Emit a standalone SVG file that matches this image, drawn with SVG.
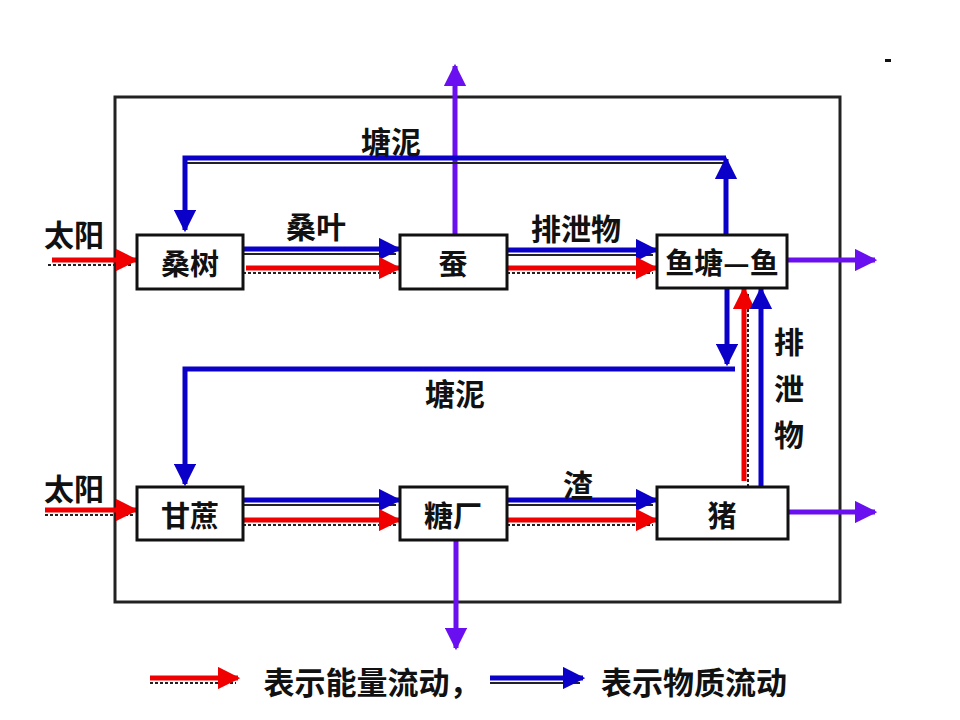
<svg xmlns="http://www.w3.org/2000/svg" width="960" height="720" viewBox="0 0 960 720">
<defs>
<marker id="ab" viewBox="0 0 10 10" refX="9" refY="5" markerWidth="4.5" markerHeight="4.5" markerUnits="strokeWidth" orient="auto"><path d="M0,0 L10,5 L0,10 z" fill="#0a00c8"/></marker>
<marker id="ar" viewBox="0 0 10 10" refX="9" refY="5" markerWidth="4.5" markerHeight="4.5" markerUnits="strokeWidth" orient="auto"><path d="M0,0 L10,5 L0,10 z" fill="#f00000"/></marker>
<marker id="ap" viewBox="0 0 10 10" refX="9" refY="5" markerWidth="4.5" markerHeight="4.5" markerUnits="strokeWidth" orient="auto"><path d="M0,0 L10,5 L0,10 z" fill="#6a10f0"/></marker>
</defs>
<style>
.box{fill:#fff;stroke:#111;stroke-width:3}
.t{font-family:"Noto Sans CJK SC","Noto Sans CJK JP",sans-serif;font-weight:bold;font-size:29px;fill:#111;text-anchor:middle;dominant-baseline:central}
.l{font-size:30px}
.g{font-size:31px}
.b{fill:none;stroke:#0a00c8;stroke-width:5}
.r{fill:none;stroke:#f00000;stroke-width:5}
.p{fill:none;stroke:#6a10f0;stroke-width:5}
.sh{fill:none;stroke:#222;stroke-width:2}
.dt{fill:none;stroke:#222;stroke-width:2;stroke-dasharray:3 2}
</style>
<rect width="960" height="720" fill="#fff"/>
<rect x="115" y="97" width="725" height="505" fill="none" stroke="#222" stroke-width="3"/>
<rect x="885" y="59" width="6" height="3" fill="#111"/>
<g id="connectors">
<line class="dt" x1="48" y1="265" x2="133" y2="265"/>
<line class="r" x1="52" y1="260" x2="136" y2="260" marker-end="url(#ar)"/>
<line class="dt" x1="45" y1="515" x2="133" y2="515"/>
<line class="r" x1="45" y1="510" x2="136" y2="510" marker-end="url(#ar)"/>
<line class="sh" x1="243" y1="254" x2="396" y2="254"/>
<line class="b" x1="243" y1="249" x2="399" y2="249" marker-end="url(#ab)"/>
<line class="dt" x1="243" y1="273" x2="396" y2="273"/>
<line class="r" x1="246" y1="268" x2="399" y2="268" marker-end="url(#ar)"/>
<line class="sh" x1="507" y1="255" x2="653" y2="255"/>
<line class="b" x1="499" y1="250" x2="656" y2="250" marker-end="url(#ab)"/>
<line class="dt" x1="507" y1="273" x2="653" y2="273"/>
<line class="r" x1="508" y1="268" x2="656" y2="268" marker-end="url(#ar)"/>
<line class="p" x1="787" y1="260" x2="875" y2="260" marker-end="url(#ap)"/>
<line class="p" x1="455" y1="235" x2="455" y2="66" marker-end="url(#ap)"/>
<line class="sh" x1="185" y1="163" x2="726" y2="163"/>
<line class="b" x1="726" y1="235" x2="726" y2="159" marker-end="url(#ab)"/>
<polyline class="b" points="726,158 185,158 185,230" marker-end="url(#ab)"/>
<line class="b" x1="727" y1="288" x2="727" y2="364" marker-end="url(#ab)"/>
<polyline class="b" points="735,369 185,369 185,484" marker-end="url(#ab)"/>
<line class="dt" x1="748" y1="487" x2="748" y2="292"/>
<line class="r" x1="744" y1="481" x2="744" y2="289" marker-end="url(#ar)"/>
<line class="b" x1="761" y1="487" x2="761" y2="289" marker-end="url(#ab)"/>
<line class="sh" x1="243" y1="505" x2="396" y2="505"/>
<line class="b" x1="243" y1="500" x2="399" y2="500" marker-end="url(#ab)"/>
<line class="dt" x1="243" y1="525" x2="396" y2="525"/>
<line class="r" x1="243" y1="520" x2="399" y2="520" marker-end="url(#ar)"/>
<line class="sh" x1="507" y1="505" x2="653" y2="505"/>
<line class="b" x1="507" y1="500" x2="656" y2="500" marker-end="url(#ab)"/>
<line class="dt" x1="507" y1="525" x2="653" y2="525"/>
<line class="r" x1="507" y1="520" x2="656" y2="520" marker-end="url(#ar)"/>
<line class="p" x1="788" y1="512" x2="875" y2="512" marker-end="url(#ap)"/>
<line class="p" x1="456" y1="540" x2="456" y2="648" marker-end="url(#ap)"/>
</g>
<g id="n-sangshu"><rect class="box" x="137" y="235" width="106" height="54"/><text class="t" x="190" y="262">桑树</text></g>
<g id="n-can"><rect class="box" x="400" y="235" width="107" height="54"/><text class="t" x="453" y="262">蚕</text></g>
<g id="n-yutang"><rect class="box" x="657" y="235" width="130" height="53"/><text class="t" x="722" y="261">鱼塘—鱼</text></g>
<g id="n-ganzhe"><rect class="box" x="137" y="487" width="106" height="53"/><text class="t" x="190" y="514">甘蔗</text></g>
<g id="n-tangchang"><rect class="box" x="400" y="487" width="107" height="53"/><text class="t" x="453" y="514">糖厂</text></g>
<g id="n-zhu"><rect class="box" x="657" y="487" width="131" height="52"/><text class="t" x="722" y="514">猪</text></g>
<g id="labels">
<text class="t l" x="74" y="233">太阳</text>
<text class="t l" x="74" y="487">太阳</text>
<text class="t l" x="391" y="140">塘泥</text>
<text class="t l" x="316" y="225">桑叶</text>
<text class="t l" x="576" y="227">排泄物</text>
<text class="t l" x="455" y="392">塘泥</text>
<text class="t l" x="578" y="483">渣</text>
<text class="t l" x="789" y="340">排</text>
<text class="t l" x="789" y="387">泄</text>
<text class="t l" x="789" y="433">物</text>
</g>
<g id="legend">
<line class="dt" x1="150" y1="683" x2="236" y2="683"/>
<line class="r" x1="150" y1="678" x2="238" y2="678" marker-end="url(#ar)"/>
<text class="t g" x="372" y="680">表示能量流动，</text>
<line class="sh" x1="490" y1="683" x2="580" y2="683"/>
<line class="b" x1="490" y1="678" x2="583" y2="678" marker-end="url(#ab)"/>
<text class="t g" x="694" y="680">表示物质流动</text>
</g>
</svg>
